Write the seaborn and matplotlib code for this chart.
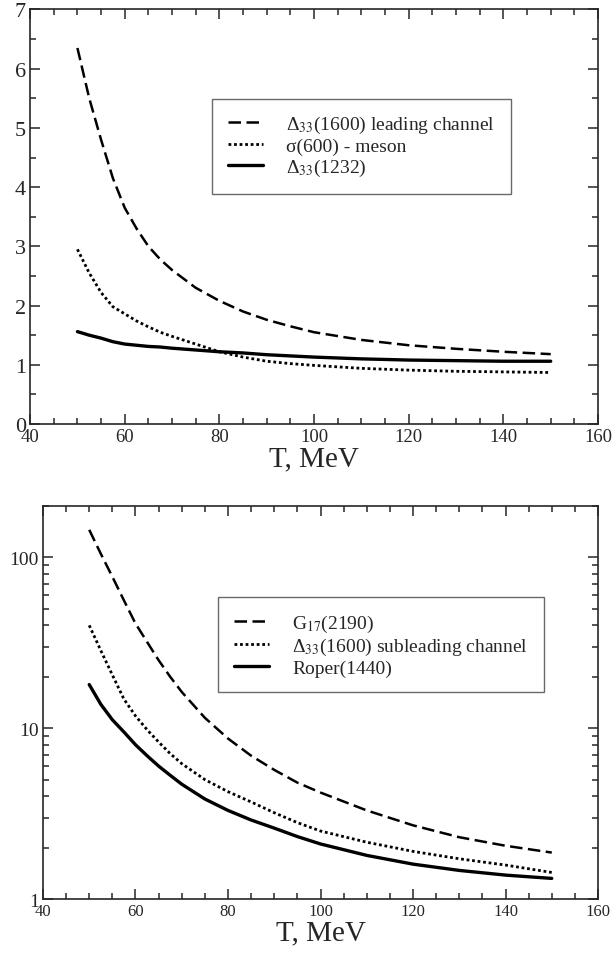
import numpy as np
import pandas as pd
import matplotlib
matplotlib.use("Agg")
import matplotlib.pyplot as plt
import seaborn as sns
from matplotlib.ticker import MultipleLocator, LogLocator, NullFormatter, FixedLocator, FuncFormatter

# temperature grid, MeV
t_vals = [50, 52.5, 55, 57.5, 60, 62.5, 65, 67.5, 70, 75, 80, 85, 90, 95, 100, 110, 120, 130, 140, 150]

# top panel
delta1600_lead = [6.35, 5.5, 4.8, 4.15, 3.65, 3.3, 3.0, 2.78, 2.6, 2.3, 2.08, 1.9, 1.76, 1.65, 1.55, 1.42, 1.33, 1.27, 1.22, 1.18]
sigma600 = [2.95, 2.55, 2.22, 1.98, 1.86, 1.74, 1.64, 1.55, 1.48, 1.35, 1.22, 1.13, 1.06, 1.02, 0.99, 0.94, 0.91, 0.89, 0.88, 0.87]
delta1232 = [1.56, 1.5, 1.45, 1.39, 1.35, 1.33, 1.31, 1.3, 1.28, 1.25, 1.22, 1.2, 1.17, 1.15, 1.13, 1.1, 1.08, 1.07, 1.06, 1.06]

# bottom panel
g17_2190 = [145, 105, 77, 56, 41, 32, 25, 20, 16.3, 11.5, 8.7, 6.9, 5.7, 4.8, 4.2, 3.3, 2.7, 2.3, 2.05, 1.87]
delta1600_sub = [40, 28.5, 20.5, 14.8, 11.8, 9.8, 8.3, 7.1, 6.2, 5.0, 4.25, 3.7, 3.2, 2.8, 2.5, 2.15, 1.9, 1.72, 1.58, 1.43]
roper1440 = [18, 13.8, 11.2, 9.5, 8.0, 6.9, 6.0, 5.3, 4.7, 3.85, 3.3, 2.9, 2.6, 2.32, 2.1, 1.8, 1.6, 1.47, 1.38, 1.32]

sns.set_style("ticks")
plt.rcParams["font.family"] = ["Liberation Serif", "DejaVu Serif"]
plt.rcParams["mathtext.fontset"] = "stix"

fig = plt.figure(figsize=(6.14, 9.54), dpi=100)
ax1 = fig.add_axes([0.049, 0.5545, 0.925, 0.4345])
ax2 = fig.add_axes([0.070, 0.0566, 0.904, 0.412])

styles = [((5, 2.2), "--", 1.8), ((1, 1), ":", 2.0), (None, "-", 2.4)]


def draw(ax, series, labels):
    for y, lab, (dash, ls, lw) in zip(series, labels, styles):
        df = pd.DataFrame({"T": t_vals, "v": y})
        sns.lineplot(data=df, x="T", y="v", ax=ax, color="black", lw=lw,
                     linestyle=ls, label=lab)
        if dash is not None:
            ax.lines[-1].set_dashes(dash)
    for sp in ax.spines.values():
        sp.set_linewidth(1.2)
    ax.tick_params(which="both", direction="in", top=True, right=True, width=1.1)
    ax.tick_params(which="major", length=7)
    ax.tick_params(which="minor", length=4)
    ax.set_xlim(40, 160)
    ax.xaxis.set_major_locator(MultipleLocator(20))
    ax.xaxis.set_minor_locator(MultipleLocator(5))
    ax.set_ylabel("")


labels_top = [r"Δ$_{33}$(1600) leading channel", "σ(600) - meson", r"Δ$_{33}$(1232)"]
draw(ax1, [delta1600_lead, sigma600, delta1232], labels_top)
ax1.set_ylim(0, 7)
ax1.yaxis.set_major_locator(MultipleLocator(1))
ax1.yaxis.set_minor_locator(MultipleLocator(0.5))
ax1.tick_params(axis="y", labelsize=16, pad=3)
ax1.tick_params(axis="x", labelsize=13.5, pad=3)
ax1.set_xlabel("T, MeV", fontsize=21, labelpad=0)

labels_bot = [r"G$_{17}$(2190)", r"Δ$_{33}$(1600) subleading channel", "Roper(1440)"]
draw(ax2, [g17_2190, delta1600_sub, roper1440], labels_bot)
ax2.set_yscale("log")
ax2.set_ylim(1, 200)
ax2.yaxis.set_major_locator(FixedLocator([1, 10, 100]))
ax2.yaxis.set_major_formatter(FuncFormatter(lambda v, p: f"{v:g}"))
ax2.yaxis.set_minor_locator(LogLocator(base=10, subs=np.arange(2, 10)))
ax2.yaxis.set_minor_formatter(NullFormatter())
ax2.tick_params(axis="y", labelsize=14, pad=3)
ax2.tick_params(axis="x", labelsize=12, pad=3)
ax2.set_xlabel("T, MeV", fontsize=21, labelpad=0)

for ax, anchor in [(ax1, (0.321, 0.785)), (ax2, (0.316, 0.768))]:
    leg = ax.legend(loc="upper left", bbox_to_anchor=anchor, fontsize=14,
                    frameon=True, fancybox=False, handlelength=1.8,
                    handletextpad=1.2, borderpad=0.8, labelspacing=0.1,
                    borderaxespad=0)
    leg.get_frame().set_edgecolor("#444444")
    leg.get_frame().set_linewidth(1.0)

fig.savefig("out.png", dpi=100)
